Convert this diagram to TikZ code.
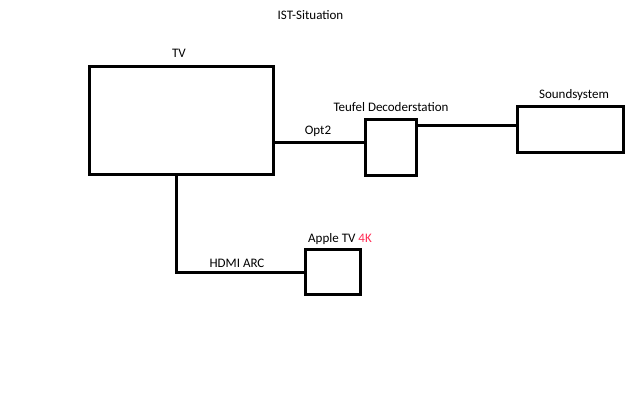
\documentclass[tikz,border=0pt]{standalone}
\usepackage{fontspec}
\setmainfont{Carlito}
\definecolor{fourk}{HTML}{FF2D55}
\begin{document}
\begin{tikzpicture}[x=1pt,y=-1pt,
  box/.style={draw=black,line width=3pt,minimum width=#1,inner sep=0pt},
  conn/.style={draw=black,line width=3pt},
  lbl/.style={inner sep=0pt,font=\fontsize{13}{15}\selectfont}]
\useasboundingbox[fill=white] (0,0) rectangle (640,410);
\node[lbl] (title) at (310.5,15) {IST-Situation};
\node[box=184pt,minimum height=108pt] (tv) at (181.5,120.5) {};
\node[box=51pt,minimum height=56pt] (dec) at (391,147.5) {};
\node[box=106pt,minimum height=46pt] (snd) at (570.5,129.5) {};
\node[box=55pt,minimum height=45pt] (apple) at (333,272) {};
\node[lbl] (tvl) at (179,53) {TV};
\node[lbl] (decl) at (391,107) {Teufel Decoderstation};
\node[lbl] (sndl) at (574,95) {Soundsystem};
\node[lbl] (appl) at (340,239) {Apple TV \textcolor{fourk}{4K}};
\node[lbl] (optl) at (318,131) {Opt2};
\node[lbl] (hdml) at (237,263) {HDMI ARC};
\coordinate (opt) at (0,142);
\coordinate (ds) at (0,125);
\coordinate (hd) at (176,0);
\draw[conn] (tv.east |- opt) -- (dec.west |- opt);
\draw[conn] (dec.east |- ds) -- (snd.west |- ds);
\draw[conn] (tv.south -| hd) |- (apple.west);
\end{tikzpicture}
\end{document}
